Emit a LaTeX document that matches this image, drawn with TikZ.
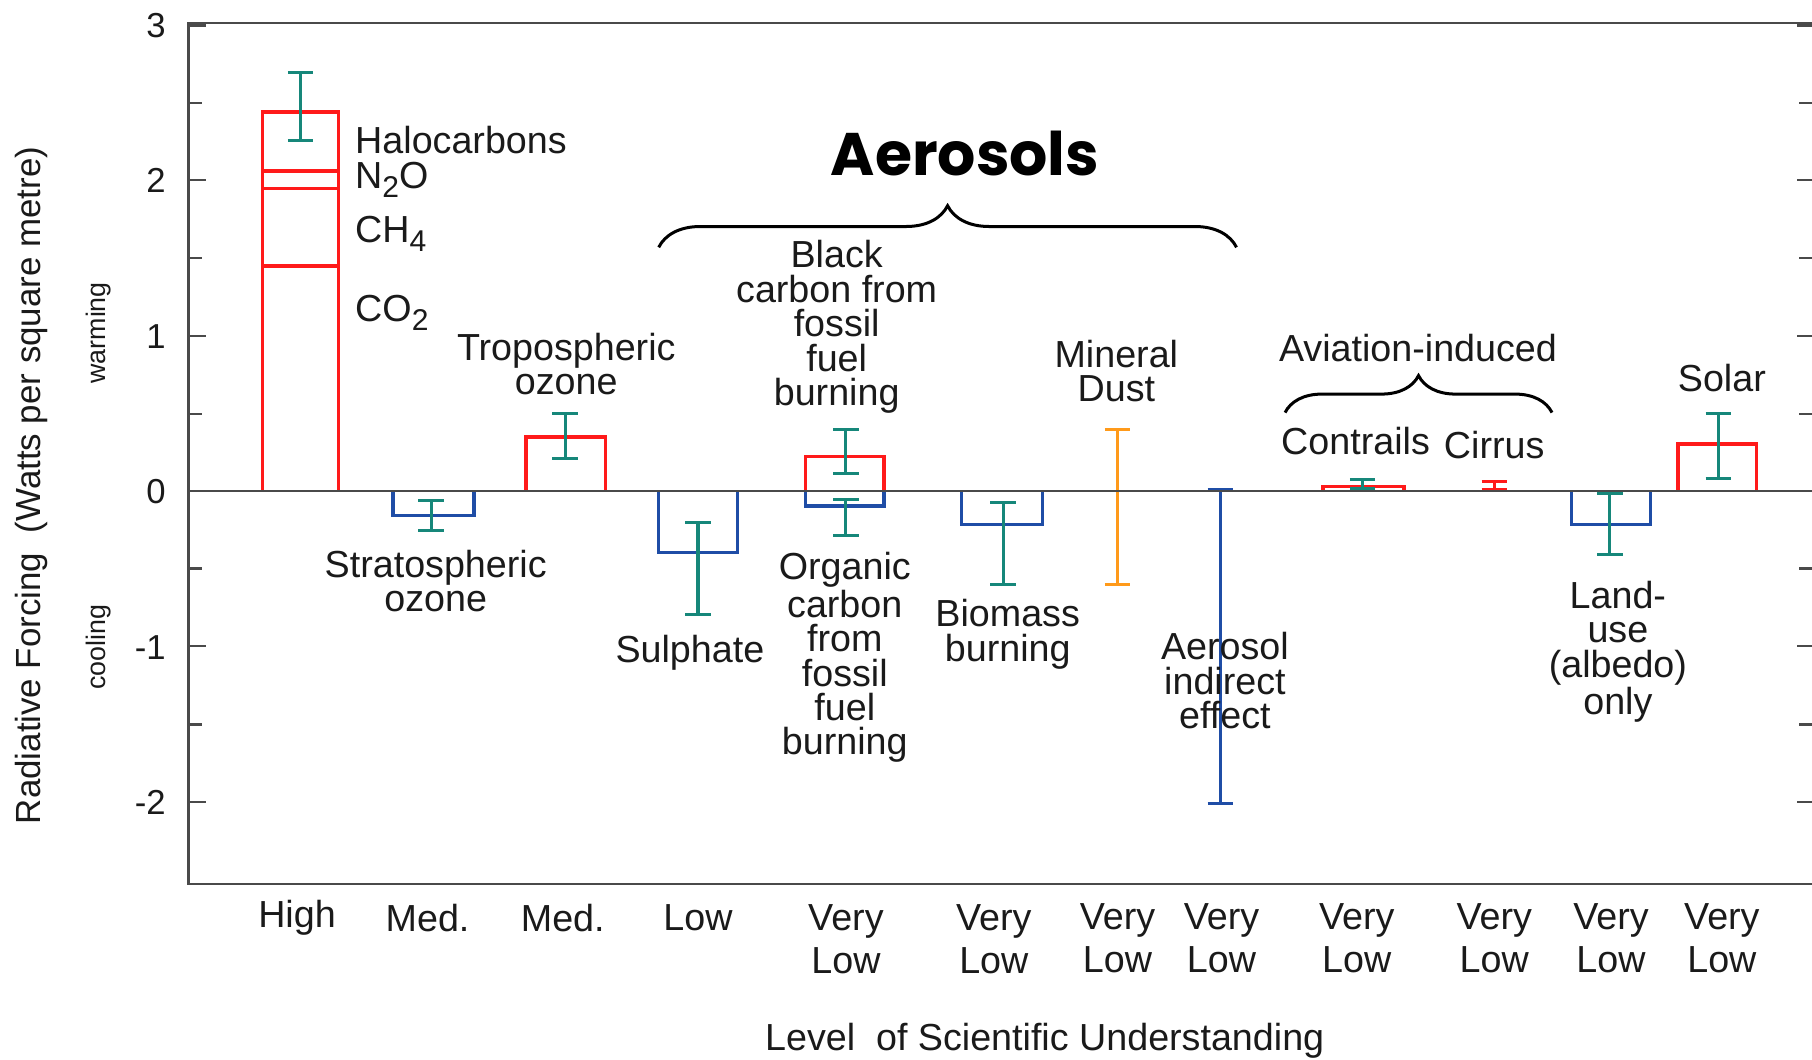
\documentclass[tikz,border=0pt]{standalone}
\usepackage{fontspec}
\setmainfont{Liberation Sans}
\newfontfamily\aerofont{Poppins}
\usetikzlibrary{decorations.pathreplacing}
\definecolor{bred}{HTML}{FF1A1A}
\definecolor{bblue}{HTML}{1F4DA6}
\definecolor{bteal}{HTML}{16877A}
\definecolor{borange}{HTML}{FF9A1A}
\definecolor{axgray}{HTML}{4A4A4A}
\definecolor{txt}{HTML}{1A1A1A}
\newcommand{\lowidx}[1]{\raisebox{-0.45ex}{\fontsize{13}{13}\selectfont #1}}
\newcommand{\errbar}[4]{%
  \draw[#1] (#2,#3) -- (#2,#4);
  \draw[#1] (#2-11,#3) -- (#2+11,#3);
  \draw[#1] (#2-11,#4) -- (#2+11,#4);}
\begin{document}
\begin{tikzpicture}[x=0.5pt,y=-0.5pt,
  lbl/.style={text=txt, font=\fontsize{16.3}{14.9}\selectfont, align=center, inner sep=0pt},
  cat/.style={text=txt, font=\fontsize{16.3}{18.5}\selectfont, align=center, inner sep=0pt},
  tick/.style={text=txt, font=\fontsize{15}{15}\selectfont, inner sep=0pt},
  small/.style={text=txt, font=\fontsize{11.6}{11.6}\selectfont, inner sep=0pt},
  frame/.style={draw=axgray, line width=1pt},
  redbar/.style={draw=bred, line width=1.5pt},
  bluebar/.style={draw=bblue, line width=1.5pt},
  teal/.style={draw=bteal, line width=1.3pt},
  orng/.style={draw=borange, line width=1.3pt},
  blueerr/.style={draw=bblue, line width=1.3pt},
  rederr/.style={draw=bred, line width=1.3pt},
  bracestyle/.style={draw=black, line width=1.3pt, decorate},
]
\useasboundingbox (0,0) rectangle (1568,917);
\fill[white] (0,0) rectangle (1568,917);

% ---- bars ----
% CO2 + others
\draw[redbar] (227,425) -- (227,97) -- (293,97) -- (293,425);
\draw[redbar] (227,148) -- (293,148);
\draw[redbar] (227,163) -- (293,163);
\draw[redbar] (227,230) -- (293,230);
\errbar{teal}{260}{63}{122}
% stratospheric ozone
\draw[bluebar] (340,425) -- (340,446) -- (410,446) -- (410,425);
\errbar{teal}{373}{433}{459}
% tropospheric ozone
\draw[redbar] (455,425) -- (455,378) -- (524,378) -- (524,425);
\errbar{teal}{489}{358}{397}
% sulphate
\draw[bluebar] (570,425) -- (570,478) -- (638,478) -- (638,425);
\errbar{teal}{604}{452}{532}
% black carbon / organic carbon
\draw[redbar] (697,425) -- (697,395) -- (765,395) -- (765,425);
\errbar{teal}{732}{372}{410}
\draw[bluebar] (697,425) -- (697,438) -- (765,438) -- (765,425);
\errbar{teal}{732}{432}{463}
% biomass burning
\draw[bluebar] (832,425) -- (832,454) -- (902,454) -- (902,425);
\errbar{teal}{868}{435}{506}
% mineral dust
\errbar{orng}{967}{372}{506}
% aerosol indirect effect
\errbar{blueerr}{1056}{424}{695}
% contrails
\draw[redbar] (1145,425) -- (1145,421) -- (1215,421) -- (1215,425);
\errbar{teal}{1179}{415}{423}
% cirrus
\errbar{rederr}{1293}{417}{424}
% land use
\draw[bluebar] (1360,425) -- (1360,454) -- (1428,454) -- (1428,425);
\errbar{teal}{1393}{427}{480}
% solar
\draw[redbar] (1452,425) -- (1452,384) -- (1520,384) -- (1520,425);
\errbar{teal}{1487}{358}{414}

% ---- frame ----
\draw[frame] (1568,20) -- (163,20) -- (163,765) -- (1568,765);
\draw[frame] (163,425) -- (1568,425);
\foreach \yy in {22,156,291,559,694} {
  \draw[frame] (163,\yy) -- (178,\yy);
  \draw[frame] (1568,\yy) -- (1555,\yy);
}
\foreach \yy in {89,223,358,492,627} {
  \draw[frame] (163,\yy) -- (175,\yy);
  \draw[frame] (1568,\yy) -- (1557,\yy);
}

% ---- axis tick labels ----
\node[tick] (t3) at (135,22) {3};
\node[tick] (t2) at (135,156) {2};
\node[tick] (t1) at (135,291) {1};
\node[tick] (t0) at (135,425) {0};
\node[tick] (tm1) at (130,560) {-1};
\node[tick] (tm2) at (130,694) {-2};

\node[text=txt, font=\fontsize{15.1}{15.1}\selectfont, inner sep=0pt, rotate=90] (ylab) at (27,420) {Radiative Forcing\ \ (Watts per square metre)};
\node[small, rotate=90] (warm) at (85,288) {warming};
\node[small, rotate=90] (cool) at (85,560) {cooling};
\node[lbl] (xlab) at (904,901) {Level\ \ of Scientific Understanding};

% ---- category labels ----
\node[cat] (c1) at (257,794) {High};
\node[cat] (c2) at (370,794) {Med.};
\node[cat] (c3) at (487,794) {Med.};
\node[cat] (c4) at (604,794) {Low};
\node[cat] (c5) at (732,813) {Very\\Low};
\node[cat] (c6) at (860,813) {Very\\Low};
\node[cat] (c7) at (967,812) {Very\\Low};
\node[cat] (c8) at (1057,812) {Very\\Low};
\node[cat] (c9) at (1174,812) {Very\\Low};
\node[cat] (c10) at (1293,812) {Very\\Low};
\node[cat] (c11) at (1394,812) {Very\\Low};
\node[cat] (c12) at (1490,812) {Very\\Low};

% ---- bar labels ----
\node[lbl, anchor=west] (halo) at (307,121) {Halocarbons};
\node[lbl, anchor=west] (n2o) at (307,156) {N\lowidx{2}O};
\node[lbl, anchor=west] (ch4) at (307,202) {CH\lowidx{4}};
\node[lbl, anchor=west] (co2) at (307,271) {CO\lowidx{2}};
\node[lbl] (trop) at (490,315) {Tropospheric\\ozone};
\node[lbl] (strat) at (377,503) {Stratospheric\\ozone};
\node[lbl] (sulph) at (597,565) {Sulphate};
\node[lbl] (black) at (724,283) {Black\\carbon from\\fossil\\fuel\\burning};
\node[lbl] (organic) at (731,569) {Organic\\carbon\\from\\fossil\\fuel\\burning};
\node[lbl] (biomass) at (872,549) {Biomass\\burning};
\node[lbl] (dust) at (966,321) {Mineral\\Dust};
\node[lbl] (indirect) at (1060,589) {Aerosol\\indirect\\effect};
\node[lbl] (avi) at (1227,301) {Aviation-induced};
\node[lbl] (contr) at (1173,382) {Contrails};
\node[lbl] (cirr) at (1293,385) {Cirrus};
\node[lbl] (land) at (1400,564) {Land-\\use\\(albedo)\\only};
\node[lbl] (solar) at (1490,327) {Solar};

% ---- braces ----
\coordinate (aL) at (570,214);
\coordinate (aR) at (1070,214);
\draw[bracestyle, decoration={brace, amplitude=18pt}] (aL) -- (aR);
\coordinate (vL) at (1112,357);
\coordinate (vR) at (1343,357);
\draw[bracestyle, decoration={brace, amplitude=16pt}] (vL) -- (vR);
\node[text=black, font=\aerofont\bfseries\fontsize{26}{26}\selectfont, inner sep=0pt] (aero) at (835,133) {Aerosols};
\end{tikzpicture}
\end{document}
